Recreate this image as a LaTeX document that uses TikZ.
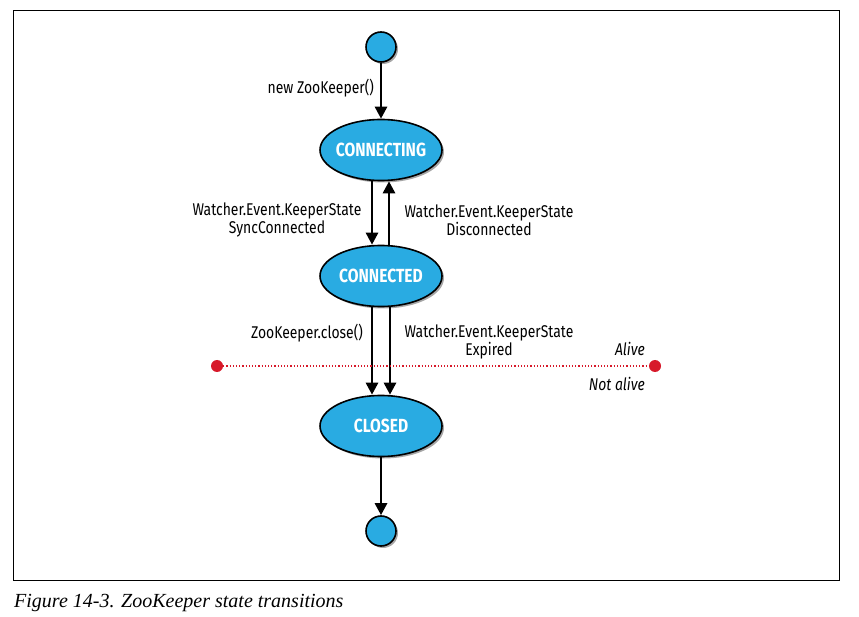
\documentclass[tikz,border=0pt]{standalone}
\usepackage{fontspec}
\setmainfont{Liberation Serif}
\newfontfamily\diagfont[FakeStretch=0.82]{Fira Sans}
\usetikzlibrary{arrows.meta,shapes.geometric,shadows}
\definecolor{zkblue}{HTML}{29ABE2}
\definecolor{zkred}{HTML}{D7192A}
\newcommand{\zktxt}[1]{\makebox[0pt]{#1}}
\tikzset{
  state/.style={ellipse, draw=black, line width=1.6pt, fill=zkblue,
    minimum width=122pt, minimum height=61pt, inner sep=0pt,
    font=\diagfont\bfseries\fontsize{19}{19}\selectfont, text=white,
    drop shadow={shadow xshift=2pt, shadow yshift=-2pt, opacity=0.35, fill=black}},
  pseudo/.style={circle, draw=black, line width=1.6pt, fill=zkblue,
    minimum size=30pt, inner sep=0pt,
    drop shadow={shadow xshift=2pt, shadow yshift=-2pt, opacity=0.35, fill=black}},
  trans/.style={line width=2.7pt, -{Triangle[width=12pt,length=12pt]}},
  lbl/.style={font=\diagfont\fontsize{17}{18}\selectfont, align=center, inner sep=0pt},
  lblit/.style={font=\diagfont\itshape\fontsize{17}{18}\selectfont, inner sep=0pt},
  reddot/.style={circle, fill=zkred, minimum size=12pt, inner sep=0pt}
}
\begin{document}
\begin{tikzpicture}[x=1pt,y=-1pt]
\useasboundingbox (0,0) rectangle (859,617);
\draw[line width=0.8pt] (13,10) rectangle (839,580);

\node[pseudo] (start) at (381,47) {};
\node[state] (connecting) at (381,150) {\zktxt{CONNECTING}};
\node[state] (connected) at (381,276) {\zktxt{CONNECTED}};
\node[state] (closed) at (381,426) {\zktxt{CLOSED}};
\node[pseudo] (end) at (381,531) {};

\draw[trans] (start) -- (connecting);
\node[lbl, anchor=east] (l1) at (374,88) {new ZooKeeper()};

\draw[trans] ([xshift=-9pt]connecting.south) -- ([xshift=-9pt]connected.north);
\draw[trans] ([xshift=8pt]connected.north) -- ([xshift=8pt]connecting.south);
\node[lbl] (l2) at (277,220) {Watcher.Event.KeeperState\\SyncConnected};
\node[lbl] (l3) at (489,220) {Watcher.Event.KeeperState\\Disconnected};

\draw[trans] ([xshift=-9pt]connected.south) -- ([xshift=-9pt]closed.north);
\draw[trans] ([xshift=9pt]connected.south) -- ([xshift=9pt]closed.north);
\node[lbl, anchor=east] (l4) at (363,333) {ZooKeeper.close()};
\node[lbl] (l5) at (489,342) {Watcher.Event.KeeperState\\Expired};

\draw[trans] (closed) -- (end);

\node[reddot] (dl) at (217,366) {};
\node[reddot] (dr) at (655,366) {};
\draw[zkred, line width=1.2pt, dotted] (dl) -- (dr);
\node[lblit, anchor=east] (alive) at (645,349) {Alive};
\node[lblit, anchor=east] (notalive) at (645,384) {Not alive};

\node[anchor=west, inner sep=0pt, font=\itshape\fontsize{20}{20}\selectfont] (cap) at (14,603) {Figure 14-3. ZooKeeper state transitions};
\end{tikzpicture}
\end{document}
